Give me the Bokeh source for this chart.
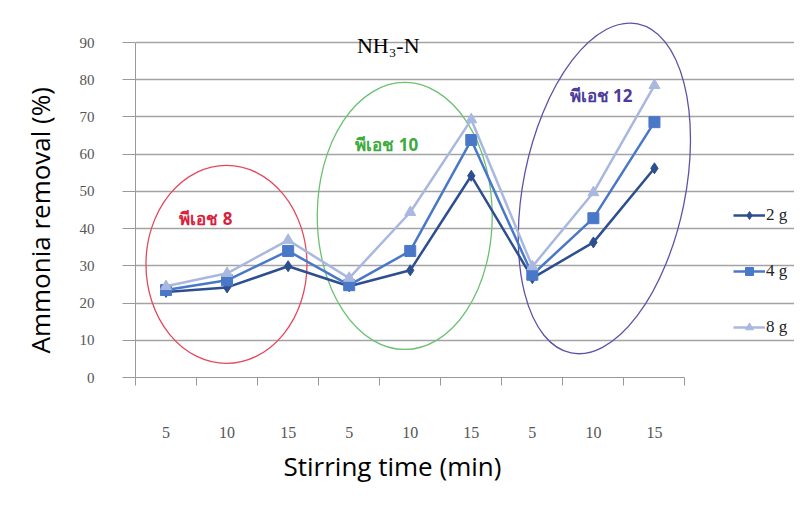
from bokeh.plotting import figure
from bokeh.models import (FixedTicker, Legend, LegendItem, Label, Title)
from bokeh.core.properties import value
from bokeh.embed import file_html
from bokeh.resources import INLINE

# ---- data ----
time_labels = ["5", "10", "15", "5", "10", "15", "5", "10", "15"]
g2 = [23.0, 24.2, 29.9, 24.5, 28.8, 54.2, 26.7, 36.3, 56.2]
g4 = [23.5, 26.1, 34.0, 24.8, 34.0, 63.8, 27.6, 42.8, 68.6]
g8 = [24.5, 28.0, 36.9, 26.7, 44.4, 69.3, 29.8, 49.7, 78.5]
series_names = ["2 g", "4 g", "8 g"]
y_ticks = [0, 10, 20, 30, 40, 50, 60, 70, 80, 90]
ph_labels = ["พีเอช 8", "พีเอช 10", "พีเอช 12"]
# group centres (category index, value) for the highlight ellipses
ph_center_x = [0.99, 3.91, 7.18]
ph_center_y = [30.4, 43.4, 50.8]

xs = list(range(len(time_labels)))
n = len(time_labels)

# layout constants (pixels)
W, H = 794, 492
LEFT, BOTTOM = 132, 115
XPX = 61.33             # px per category
YPX = 3.722             # px per percent
fw = W - LEFT
fh = H - BOTTOM
x_end = -0.5 + fw / XPX
y_end = fh / YPX

p = figure(width=W, height=H, output_backend="svg", toolbar_location=None,
           x_range=(-0.5, x_end), y_range=(0, y_end),
           min_border_left=LEFT, min_border_right=0, min_border_top=0,
           min_border_bottom=BOTTOM)
p.outline_line_color = None
p.background_fill_color = "white"
p.border_fill_color = "white"

# axes
serif = "Liberation Serif"
p.xaxis.bounds = (-0.5, n - 0.5)
p.xaxis.ticker = FixedTicker(ticks=xs, minor_ticks=[i - 0.5 for i in range(n + 1)])
p.xaxis.major_label_overrides = {i: t for i, t in enumerate(time_labels)}
p.xaxis.major_tick_out = 0
p.xaxis.major_tick_in = 0
p.xaxis.minor_tick_out = 8
p.xaxis.minor_tick_in = 0
p.xaxis.minor_tick_line_color = "#999999"
p.xaxis.axis_line_color = "#999999"
p.xaxis.major_label_standoff = 41
p.xaxis.major_label_text_font = serif
p.xaxis.major_label_text_font_size = "16px"
p.xaxis.major_label_text_color = "#555555"

p.yaxis.bounds = (0, 90)
p.yaxis.ticker = FixedTicker(ticks=y_ticks)
p.yaxis.major_tick_out = 13
p.yaxis.major_tick_in = 0
p.yaxis.minor_tick_out = 0
p.yaxis.major_tick_line_color = "#999999"
p.yaxis.axis_line_color = "#999999"
p.yaxis.major_label_standoff = 28
p.yaxis.major_label_text_font = serif
p.yaxis.major_label_text_font_size = "15px"
p.yaxis.major_label_text_color = "#555555"

p.xgrid.grid_line_color = None
p.ygrid.ticker = FixedTicker(ticks=y_ticks)
p.ygrid.bounds = (-0.5, n - 0.5)
p.ygrid.grid_line_color = "#a3a3a3"
p.ygrid.grid_line_width = 1.3

ytitle = Title(text="Ammonia removal (%)", align="left", offset=24,
               text_font="Open Sans", text_font_style="normal",
               text_font_size="26px", text_color="black", standoff=38)
p.add_layout(ytitle, "left")
xtitle = Title(text="Stirring time (min)", align="left", offset=148,
               text_font="Open Sans", text_font_style="normal",
               text_font_size="26px", text_color="black", standoff=10)
p.add_layout(xtitle, "below")

# highlight ellipses
ell_w = [161, 175, 162]
ell_h = [198, 267, 336]
ell_a = [0.0, 0.0, -0.2]
ell_c = ["#e4485f", "#6cc070", "#5b54a6"]
txt_c = ["#d81f3c", "#3daa3d", "#4b3c9c"]
p.ellipse(x=ph_center_x, y=ph_center_y, width=ell_w, height=ell_h, angle=ell_a,
          width_units="screen", height_units="screen",
          fill_color=None, line_color=ell_c, line_width=1.3)

# series
colors = ["#2e4f8f", "#4a78c8", "#a9b8de"]
r1l = p.line(xs, g2, line_color=colors[0], line_width=2.5)
r1m = p.scatter(xs, g2, marker="diamond", size=11, fill_color=colors[0], line_color=colors[0])
r2l = p.line(xs, g4, line_color=colors[1], line_width=2.5)
r2m = p.scatter(xs, g4, marker="square", size=11, fill_color=colors[1], line_color=colors[1])
r3l = p.line(xs, g8, line_color=colors[2], line_width=2.5)
r3m = p.scatter(xs, g8, marker="triangle", size=11, fill_color=colors[2], line_color=colors[2])
items = [LegendItem(label=series_names[0], renderers=[r1l, r1m]),
         LegendItem(label=series_names[1], renderers=[r2l, r2m]),
         LegendItem(label=series_names[2], renderers=[r3l, r3m])]

# pH annotations
ph_text_x = [0.217, 3.10, 6.61]
ph_text_y = [42.7, 62.6, 75.8]
p.text(x=ph_text_x, y=ph_text_y, text=ph_labels, text_color=txt_c,
       text_font=value("Noto Sans"), text_font_style="bold", text_font_size="17px",
       text_align="left", text_baseline="middle")

# chart title
p.add_layout(Label(x=3.64, y=89.2, text="NH₃-N", text_align="center",
                   text_baseline="alphabetic", text_font=serif,
                   text_font_size="22px", text_color="black"))

legend = Legend(items=items, location=(730 - LEFT, 377 - 337), orientation="vertical",
                glyph_width=32, glyph_height=20, label_height=20, spacing=36,
                label_standoff=1, padding=0, margin=0,
                label_text_font=serif, label_text_font_size="17px",
                label_text_color="#222222",
                border_line_color=None, background_fill_alpha=0)
p.add_layout(legend)

open("out.html", "w").write(file_html(p, INLINE))
